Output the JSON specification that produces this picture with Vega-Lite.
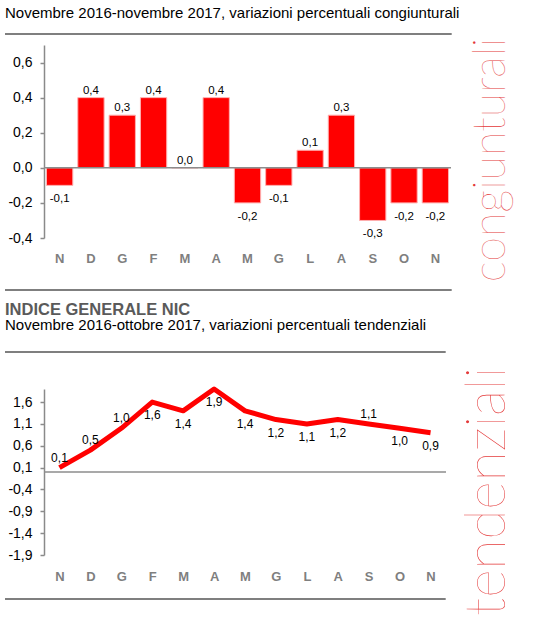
{
  "$schema": "https://vega.github.io/schema/vega-lite/v6.json",
  "padding": {"left": 4, "top": 6, "right": 0, "bottom": 0},
  "background": "white",
  "config": {
    "view": {"stroke": null},
    "font": "Liberation Sans",
    "locale": {
      "number": {"decimal": ",", "thousands": ".", "grouping": [3], "currency": ["", " €"], "minus": "-"}
    },
    "title": {"anchor": "start", "frame": "group", "color": "#000000", "fontWeight": "normal", "fontSize": 15},
    "axisY": {
      "grid": false,
      "title": null,
      "format": ".1f",
      "labelOverlap": false,
      "domainColor": "#8a8a8a",
      "domainWidth": 1.5,
      "tickColor": "#8a8a8a",
      "tickWidth": 1.5,
      "tickSize": 4,
      "labelFontSize": 14,
      "labelColor": "#000000",
      "labelPadding": 8
    },
    "axisX": {
      "title": null,
      "labelAngle": 0,
      "labelOverlap": false,
      "ticks": false,
      "tickSize": 0,
      "domain": false,
      "labelFontSize": 13,
      "labelFontWeight": "bold",
      "labelColor": "#7f7f7f"
    }
  },
  "datasets": {
    "sep": [{"da": 0, "a": 1}],
    "cong": [
      {"mese": "nov 2016", "valore": -0.1},
      {"mese": "dic 2016", "valore": 0.4},
      {"mese": "gen 2017", "valore": 0.3},
      {"mese": "feb 2017", "valore": 0.4},
      {"mese": "mar 2017", "valore": 0.0},
      {"mese": "apr 2017", "valore": 0.4},
      {"mese": "mag 2017", "valore": -0.2},
      {"mese": "giu 2017", "valore": -0.1},
      {"mese": "lug 2017", "valore": 0.1},
      {"mese": "ago 2017", "valore": 0.3},
      {"mese": "set 2017", "valore": -0.3},
      {"mese": "ott 2017", "valore": -0.2},
      {"mese": "nov 2017", "valore": -0.2}
    ],
    "tend": [
      {"mese": "nov 2016", "valore": 0.1},
      {"mese": "dic 2016", "valore": 0.5},
      {"mese": "gen 2017", "valore": 1.0},
      {"mese": "feb 2017", "valore": 1.6},
      {"mese": "mar 2017", "valore": 1.4},
      {"mese": "apr 2017", "valore": 1.9},
      {"mese": "mag 2017", "valore": 1.4},
      {"mese": "giu 2017", "valore": 1.2},
      {"mese": "lug 2017", "valore": 1.1},
      {"mese": "ago 2017", "valore": 1.2},
      {"mese": "set 2017", "valore": 1.1},
      {"mese": "ott 2017", "valore": 1.0},
      {"mese": "nov 2017", "valore": 0.9}
    ]
  },
  "spacing": 0,
  "hconcat": [
    {
      "spacing": 10,
      "vconcat": [
        {
          "title": {"text": "Novembre 2016-novembre 2017, variazioni percentuali congiunturali", "offset": 12},
          "width": 446.7,
          "height": 1,
          "data": {"name": "sep"},
          "mark": {"type": "rule", "color": "#000000", "strokeWidth": 1.2},
          "encoding": {
            "x": {"field": "da", "type": "quantitative", "scale": {"domain": [0, 1]}, "axis": null},
            "x2": {"field": "a"},
            "y": {"datum": 1, "type": "quantitative", "scale": {"domain": [0, 1]}, "axis": null}
          }
        },
        {
          "spacing": 0,
          "bounds": "flush",
          "hconcat": [
            {
              "width": 39,
              "height": 193,
              "data": {"name": "sep"},
              "mark": {"type": "text"},
              "encoding": {"text": {"value": ""}}
            },
            {
              "width": 407,
              "height": 193,
              "data": {"name": "cong"},
              "layer": [
                {
                  "mark": {"type": "bar", "color": "#ff0000", "stroke": "#ffb0b0", "strokeWidth": 1},
                  "encoding": {
                    "x": {
                      "field": "mese",
                      "type": "ordinal",
                      "sort": null,
                      "scale": {"paddingInner": 0.16, "paddingOuter": 0.08},
                      "axis": {"labelExpr": "upper(slice(datum.label, 0, 1))", "labelPadding": 14, "labelOverlap": false}
                    },
                    "y": {
                      "field": "valore",
                      "type": "quantitative",
                      "scale": {"domain": [-0.4, 0.7], "nice": false, "zero": false},
                      "axis": {"values": [-0.4, -0.2, 0, 0.2, 0.4, 0.6], "tickCount": 12, "labelOverlap": false, "labelBound": false}
                    }
                  }
                },
                {
                  "data": {"values": [{"zero": 0}]},
                  "mark": {"type": "rule", "color": "#8c8c8c", "strokeWidth": 1.5},
                  "encoding": {"y": {"field": "zero", "type": "quantitative"}}
                },
                {
                  "transform": [{"filter": "datum.valore >= 0"}],
                  "mark": {"type": "text", "baseline": "bottom", "dy": -2, "fontSize": 11.5, "color": "#000000"},
                  "encoding": {
                    "x": {"field": "mese", "type": "ordinal", "sort": null},
                    "y": {"field": "valore", "type": "quantitative"},
                    "text": {"field": "valore", "type": "quantitative", "format": ".1f"}
                  }
                },
                {
                  "transform": [{"filter": "datum.valore < 0"}],
                  "mark": {"type": "text", "baseline": "top", "dy": 8, "fontSize": 11.5, "color": "#000000"},
                  "encoding": {
                    "x": {"field": "mese", "type": "ordinal", "sort": null},
                    "y": {"field": "valore", "type": "quantitative"},
                    "text": {"field": "valore", "type": "quantitative", "format": ".1f"}
                  }
                }
              ]
            }
          ]
        },
        {
          "width": 446.7,
          "height": 15,
          "data": {"name": "sep"},
          "mark": {"type": "rule", "color": "#000000", "strokeWidth": 1.2},
          "encoding": {
            "x": {"field": "da", "type": "quantitative", "scale": {"domain": [0, 1]}, "axis": null},
            "x2": {"field": "a"},
            "y": {"datum": 0, "type": "quantitative", "scale": {"domain": [0, 1]}, "axis": null}
          }
        },
        {
          "title": {
            "text": "INDICE GENERALE NIC",
            "fontSize": 16.5,
            "fontWeight": "bold",
            "color": "#5a5a5a",
            "subtitle": "Novembre 2016-ottobre 2017, variazioni percentuali tendenziali",
            "subtitleFontSize": 15,
            "subtitleColor": "#000000",
            "subtitlePadding": 0,
            "offset": 18
          },
          "width": 440.7,
          "height": 24,
          "data": {"name": "sep"},
          "mark": {"type": "rule", "color": "#000000", "strokeWidth": 1.2},
          "encoding": {
            "x": {"field": "da", "type": "quantitative", "scale": {"domain": [0, 1]}, "axis": null},
            "x2": {"field": "a"},
            "y": {"datum": 1, "type": "quantitative", "scale": {"domain": [0, 1]}, "axis": null}
          }
        },
        {
          "spacing": 0,
          "bounds": "flush",
          "hconcat": [
            {
              "width": 39,
              "height": 166,
              "data": {"name": "sep"},
              "mark": {"type": "text"},
              "encoding": {"text": {"value": ""}}
            },
            {
              "width": 402,
              "height": 166,
              "data": {"name": "tend"},
              "layer": [
                {
                  "data": {"values": [{"zero": 0}]},
                  "mark": {"type": "rule", "color": "#8c8c8c", "strokeWidth": 1.5},
                  "encoding": {"y": {"field": "zero", "type": "quantitative", "scale": {"domain": [-1.9, 1.9], "nice": false, "zero": false}}}
                },
                {
                  "mark": {"type": "line", "color": "#ff0000", "strokeWidth": 5, "strokeJoin": "round"},
                  "encoding": {
                    "x": {
                      "field": "mese",
                      "type": "ordinal",
                      "sort": null,
                      "axis": {"labelExpr": "upper(slice(datum.label, 0, 1))", "labelPadding": 15, "labelOverlap": false}
                    },
                    "y": {
                      "field": "valore",
                      "type": "quantitative",
                      "axis": {"values": [-1.9, -1.4, -0.9, -0.4, 0.1, 0.6, 1.1, 1.6], "tickCount": 12, "labelOverlap": false, "labelBound": false}
                    }
                  }
                },
                {
                  "transform": [{"filter": "indexof(['nov 2016', 'dic 2016', 'gen 2017', 'set 2017'], datum.mese) >= 0"}],
                  "mark": {"type": "text", "baseline": "middle", "dy": -10, "fontSize": 12, "color": "#000000"},
                  "encoding": {
                    "x": {"field": "mese", "type": "ordinal", "sort": null},
                    "y": {"field": "valore", "type": "quantitative"},
                    "text": {"field": "valore", "type": "quantitative", "format": ".1f"}
                  }
                },
                {
                  "transform": [{"filter": "indexof(['nov 2016', 'dic 2016', 'gen 2017', 'set 2017'], datum.mese) < 0"}],
                  "mark": {"type": "text", "baseline": "middle", "dy": 13, "fontSize": 12, "color": "#000000"},
                  "encoding": {
                    "x": {"field": "mese", "type": "ordinal", "sort": null},
                    "y": {"field": "valore", "type": "quantitative"},
                    "text": {"field": "valore", "type": "quantitative", "format": ".1f"}
                  }
                }
              ]
            }
          ]
        },
        {
          "width": 440.7,
          "height": 6,
          "data": {"name": "sep"},
          "mark": {"type": "rule", "color": "#000000", "strokeWidth": 1.2},
          "encoding": {
            "x": {"field": "da", "type": "quantitative", "scale": {"domain": [0, 1]}, "axis": null},
            "x2": {"field": "a"},
            "y": {"datum": 0, "type": "quantitative", "scale": {"domain": [0, 1]}, "axis": null}
          }
        }
      ]
    },
    {
      "spacing": 85.5,
      "bounds": "flush",
      "vconcat": [
        {
          "width": 50,
          "height": 252,
          "data": {"values": [{"testo": "congiunturali"}]},
          "mark": {"type": "text", "angle": 270, "align": "center", "baseline": "alphabetic", "font": "Lato", "fontWeight": 200, "fontSize": 45, "color": "#e43a3a"},
          "encoding": {"text": {"field": "testo"}}
        },
        {
          "width": 50,
          "height": 240,
          "data": {"values": [{"testo": "tendenziali"}]},
          "mark": {"type": "text", "angle": 270, "align": "center", "baseline": "alphabetic", "font": "Lato", "fontWeight": 200, "fontSize": 55, "color": "#e43a3a"},
          "encoding": {"text": {"field": "testo"}}
        }
      ]
    }
  ]
}
